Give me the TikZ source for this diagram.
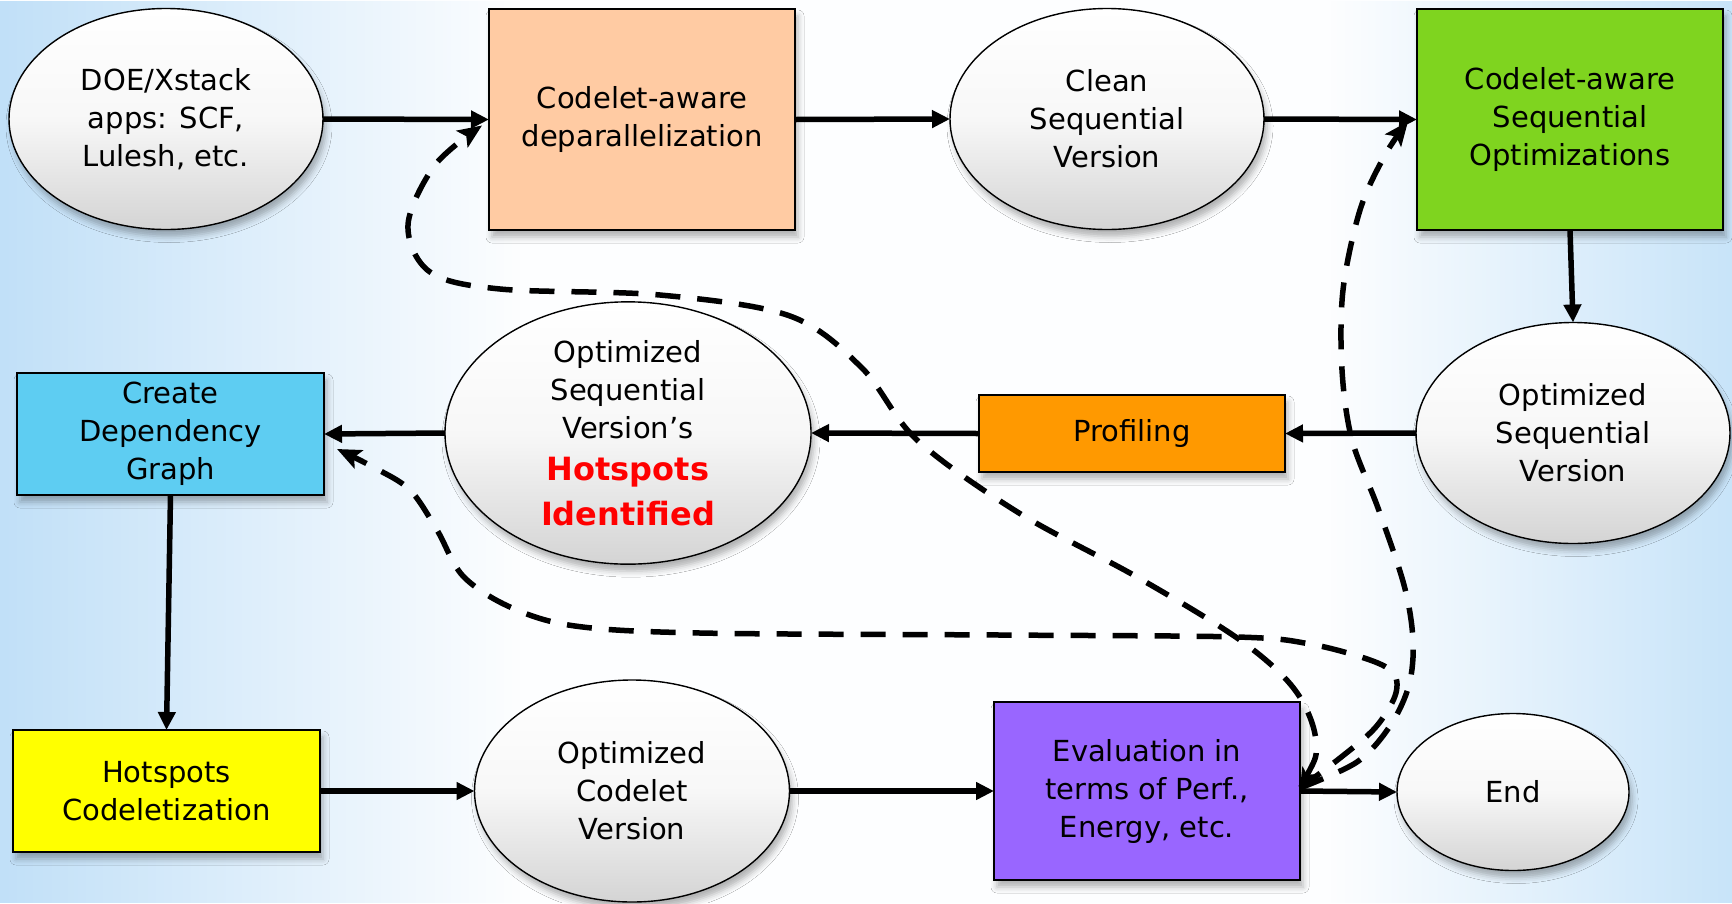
\documentclass[tikz,border=0pt]{standalone}
\usepackage{fontspec}
\setmainfont{DejaVu Sans}
\usetikzlibrary{shapes.geometric,arrows.meta,shadows.blur,fadings,calc}

\definecolor{peach}{HTML}{FFCBA3}
\definecolor{leafgreen}{HTML}{7FD41F}
\definecolor{profile}{HTML}{FF9900}
\definecolor{skyblue}{HTML}{5ECDF2}
\definecolor{lemon}{HTML}{FFFF00}
\definecolor{violet}{HTML}{9966FF}
\definecolor{edgeblue}{HTML}{B6DBF7}
\definecolor{bandblue}{HTML}{C6E3F8}
\definecolor{ellgray}{HTML}{D4D4D4}
\colorlet{paper}{white!97!edgeblue}

\tikzfading[name=fadeoutright, left color=transparent!0, right color=transparent!100]
\tikzfading[name=fadeoutleft, left color=transparent!100, right color=transparent!0]

\begin{document}
\begin{tikzpicture}[x=1pt, y=-1pt,
  every node/.style={font=\fontsize{29}{38}\selectfont, align=center, inner sep=0pt, outer sep=0pt},
  softshadow/.style={blur shadow={shadow xshift=3pt, shadow yshift=-7pt, shadow blur radius=6pt, shadow opacity=30}},
  boxnode/.style={rectangle, draw=black, line width=1.6pt, softshadow},
  ellnode/.style={ellipse, draw=black, line width=1.4pt, top color=white, bottom color=ellgray, middle color=white!97!black, softshadow},
  flow/.style={line width=5.5pt, -{Triangle[length=18pt, width=17pt]}},
  feedback/.style={line width=5.5pt, dash pattern=on 25pt off 17pt, -{Stealth[length=24pt, width=20pt, inset=5pt]}}
]
\useasboundingbox (0,0) rectangle (1732,903);

% background: pale sky with a soft horizontal band and bluish edges
\fill[paper] (0,0) rectangle (1732,903);
\shade[top color=paper, middle color=bandblue, bottom color=paper] (0,575) rectangle (1732,745);
\fill[edgeblue!85, path fading=fadeoutright] (0,0) rectangle (520,903);
\fill[edgeblue!75, path fading=fadeoutleft] (1330,0) rectangle (1732,903);

% top row
\node[ellnode, minimum width=314pt, minimum height=221pt] (doe) at (166,119) {DOE/Xstack\\apps: SCF,\\Lulesh, etc.};
\node[boxnode, fill=peach, minimum width=306pt, minimum height=221pt] (depar) at (642,119.5) {Codelet-aware\\deparallelization};
\node[ellnode, minimum width=314pt, minimum height=221pt] (clean) at (1107,119) {Clean\\Sequential\\Version};
\node[boxnode, fill=leafgreen, minimum width=306pt, minimum height=221pt] (seqopt) at (1570,119.5) {Codelet-aware\\Sequential\\Optimizations};

% middle row
\node[ellnode, minimum width=314pt, minimum height=221pt] (optseq) at (1573,433) {Optimized\\Sequential\\Version};
\node[boxnode, fill=profile, minimum width=306pt, minimum height=77pt] (prof) at (1132,433.5) {Profiling};
\node[ellnode, minimum width=366pt, minimum height=221pt] (hotspots) at (628,433) {Optimized\\Sequential\\Version’s\\[4pt]{\color{red}\bfseries\fontsize{32}{38}\selectfont Hotspots}\\[7pt]{\color{red}\bfseries\fontsize{32}{38}\selectfont Identified}};
\node[boxnode, fill=skyblue, minimum width=307pt, minimum height=122pt] (cdg) at (170.5,434) {Create\\Dependency\\Graph};

% bottom row
\node[boxnode, fill=lemon, minimum width=307pt, minimum height=122pt] (hcod) at (166.5,791) {Hotspots\\Codeletization};
\node[ellnode, minimum width=315pt, minimum height=222pt] (ocv) at (632,791) {Optimized\\Codelet\\Version};
\node[boxnode, fill=violet, minimum width=306pt, minimum height=178pt] (eval) at (1147,791) {Evaluation in\\terms of Perf.,\\Energy, etc.};
\node[ellnode, minimum width=232pt, minimum height=157pt] (end) at (1513,792) {End};

% main flow
\draw[flow] (doe.east) -- (depar.west);
\draw[flow] (depar.east) -- (clean.west);
\draw[flow] (clean.east) -- (seqopt.west);
\draw[flow] (seqopt.south) -- (optseq.north);
\draw[flow] (optseq.west) -- (prof.east);
\draw[flow] (prof.west) -- (hotspots.east);
\draw[flow] (hotspots.west) -- (cdg.east);
\draw[flow] (cdg.south) -- (hcod.north);
\draw[flow] (hcod.east) -- (ocv.west);
\draw[flow] (ocv.east) -- (eval.west);
\draw[flow] (eval.east) -- (end.west);

% feedback loops leaving the evaluation step
\coordinate (fbstart) at ($(eval.east)+(0,-3)$);
\coordinate (toDepar) at ($(depar.west)+(-7,6)$);
\coordinate (toSeqopt) at ($(seqopt.west)+(-9,2)$);
\coordinate (toCdg) at ($(cdg.east)+(13,15)$);

\draw[feedback, {Stealth[length=20pt, width=16pt, inset=5pt]}-{Stealth[length=24pt, width=20pt, inset=5pt]}]
  plot[smooth, tension=0.55] coordinates {(fbstart) (1316,742) (1295,690) (1240,640) (1137,577) (1019,513) (917,440) (862,368) (790,316) (660,295) (500,289) (430,272) (408,225) (435,165) (toDepar)};

\draw[feedback]
  plot[smooth, tension=0.55] coordinates {(fbstart) (1357,762) (1390,726) (1409,685) (1413,640) (1404,585) (1378,508) (1352,440) (1342,370) (1343,290) (1360,210) (1385,155) (toSeqopt)};

\draw[feedback]
  plot[smooth, tension=0.55] coordinates {(fbstart) (1340,758) (1375,728) (1395,696) (1394,674) (1370,660) (1310,644) (1237,637) (1000,635) (700,633) (575,626) (510,607) (463,576) (437,530) (410,490) (375,468) (toCdg)};
\end{tikzpicture}
\end{document}
